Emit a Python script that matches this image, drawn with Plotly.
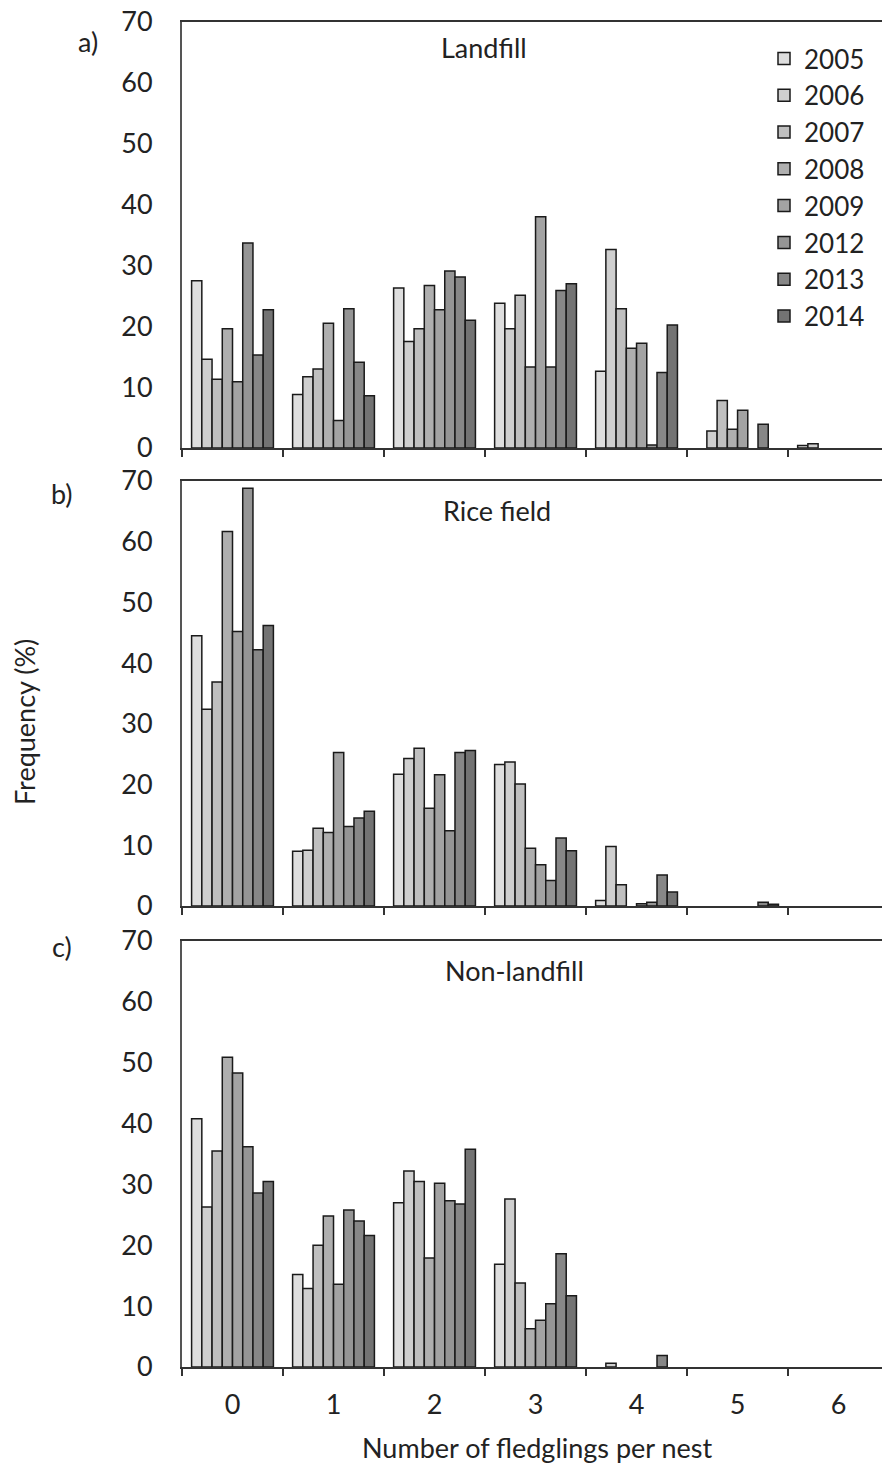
import plotly.graph_objects as go

years = ["2005", "2006", "2007", "2008", "2009", "2012", "2013", "2014"]
categories = ["0", "1", "2", "3", "4", "5", "6"]
colors = ["#dedede", "#cfcfcf", "#bfbfbf", "#afafaf", "#a3a3a3", "#959595", "#878787", "#737373"]

# Frequency (%) per year, categories 0..6 fledglings per nest
landfill = {
    "2005": [27.5, 8.8, 26.3, 23.8, 12.6, 0, 0.4],
    "2006": [14.6, 11.7, 17.5, 19.6, 32.6, 2.8, 0.7],
    "2007": [11.3, 13.0, 19.6, 25.1, 22.9, 7.8, 0],
    "2008": [19.6, 20.5, 26.7, 13.3, 16.4, 3.1, 0],
    "2009": [10.9, 4.5, 22.7, 38.0, 17.2, 6.2, 0],
    "2012": [33.7, 22.9, 29.1, 13.3, 0.5, 0, 0],
    "2013": [15.3, 14.1, 28.1, 25.9, 12.4, 3.9, 0],
    "2014": [22.7, 8.6, 21.0, 27.0, 20.2, 0, 0],
}
rice_field = {
    "2005": [44.5, 9.0, 21.7, 23.3, 0.9, 0, 0],
    "2006": [32.4, 9.2, 24.3, 23.7, 9.8, 0, 0],
    "2007": [36.9, 12.8, 26.0, 20.1, 3.5, 0, 0],
    "2008": [61.7, 12.1, 16.1, 9.5, 0, 0, 0],
    "2009": [45.2, 25.3, 21.6, 6.8, 0.35, 0, 0],
    "2012": [68.8, 13.1, 12.4, 4.2, 0.6, 0, 0],
    "2013": [42.2, 14.5, 25.3, 11.2, 5.1, 0.6, 0],
    "2014": [46.2, 15.6, 25.6, 9.1, 2.3, 0.3, 0],
}
non_landfill = {
    "2005": [40.8, 15.2, 27.0, 16.9, 0, 0, 0],
    "2006": [26.3, 12.9, 32.2, 27.6, 0.6, 0, 0],
    "2007": [35.5, 20.0, 30.5, 13.8, 0, 0, 0],
    "2008": [50.9, 24.8, 17.9, 6.3, 0, 0, 0],
    "2009": [48.3, 13.6, 30.2, 7.7, 0, 0, 0],
    "2012": [36.2, 25.8, 27.3, 10.4, 0, 0, 0],
    "2013": [28.6, 24.0, 26.8, 18.6, 1.9, 0, 0],
    "2014": [30.5, 21.6, 35.8, 11.7, 0, 0, 0],
}
panels = [("Landfill", landfill), ("Rice field", rice_field), ("Non-landfill", non_landfill)]
panel_labels = ["a)", "b)", "c)"]
y_ticks = [0, 10, 20, 30, 40, 50, 60, 70]

W, H = 882, 1466
FONT = "Lato"
FS = 27
TXT = "#222222"

# pixel layout
x_left = 182
plot_tops = [22, 481, 941]
plot_bots = [448, 906, 1367]

fig = go.Figure()
for p, (title, data) in enumerate(panels):
    ax = "" if p == 0 else str(p + 1)
    for i, yr in enumerate(years):
        vals = [v if v != 0 else None for v in data[yr]]
        fig.add_trace(go.Bar(
            x=categories, y=vals, name=yr,
            xaxis="x" + ax, yaxis="y" + ax,
            marker=dict(color=colors[i], line=dict(color="#1a1a1a", width=1.5)),
            showlegend=(p == 0), legendgroup=yr,
        ))

layout = dict(
    width=W, height=H,
    margin=dict(l=0, r=0, t=0, b=0, autoexpand=False),
    paper_bgcolor="white", plot_bgcolor="white",
    barmode="group", bargap=0.19, bargroupgap=0,
    font=dict(family=FONT, size=FS, color=TXT),
    showlegend=True,
    legend=dict(x=764 / W, y=1 - 35 / H, xanchor="left", yanchor="top",
                font=dict(family=FONT, size=26, color=TXT),
                bgcolor="rgba(0,0,0,0)", tracegroupgap=0, itemwidth=30),
)
annotations = []
for p in range(3):
    ax = "" if p == 0 else str(p + 1)
    top = 1 - plot_tops[p] / H
    bot = 1 - plot_bots[p] / H
    layout["xaxis" + ax] = dict(
        domain=[x_left / W, 1.0], anchor="y" + ax,
        type="category", categoryorder="array", categoryarray=categories,
        range=[-0.5, 6.43], tickson="boundaries",
        ticks="outside", ticklen=7, tickwidth=1.5, tickcolor="#333333",
        showline=True, linecolor="#333333", linewidth=2, mirror=True,
        showgrid=False, zeroline=False, automargin=False,
        showticklabels=(p == 2), ticklabelstandoff=13,
        tickfont=dict(family=FONT, size=FS, color=TXT),
    )
    layout["yaxis" + ax] = dict(
        domain=[bot, top], anchor="x" + ax,
        range=[0, 70], tickvals=y_ticks, ticks="",
        showline=True, linecolor="#555555", linewidth=2, automargin=False,
        showgrid=False, zeroline=False, ticklabelstandoff=22,
        tickfont=dict(family=FONT, size=FS, color=TXT),
    )

# panel titles
title_pos = [(484, 48), (497, 510), (514, 970)]
for (t, _), (px, py) in zip(panels, title_pos):
    annotations.append(dict(text=t, x=px / W, y=1 - py / H, xref="paper", yref="paper",
                            showarrow=False, xanchor="center", yanchor="middle",
                            font=dict(family=FONT, size=FS, color=TXT)))
label_pos = [(88, 42), (62, 494), (62, 946)]
for lab, (px, py) in zip(panel_labels, label_pos):
    annotations.append(dict(text=lab, x=px / W, y=1 - py / H, xref="paper", yref="paper",
                            showarrow=False, xanchor="center", yanchor="middle",
                            font=dict(family=FONT, size=FS, color=TXT)))
annotations.append(dict(text="Frequency (%)", x=24 / W, y=1 - 722 / H, xref="paper", yref="paper",
                        showarrow=False, textangle=-90, xanchor="center", yanchor="middle",
                        font=dict(family=FONT, size=FS, color=TXT)))
annotations.append(dict(text="Number of fledglings per nest", x=537 / W, y=1 - 1447 / H,
                        xref="paper", yref="paper", showarrow=False,
                        xanchor="center", yanchor="middle",
                        font=dict(family=FONT, size=FS, color=TXT)))
layout["annotations"] = annotations
fig.update_layout(**layout)
fig.write_html("out.html")
